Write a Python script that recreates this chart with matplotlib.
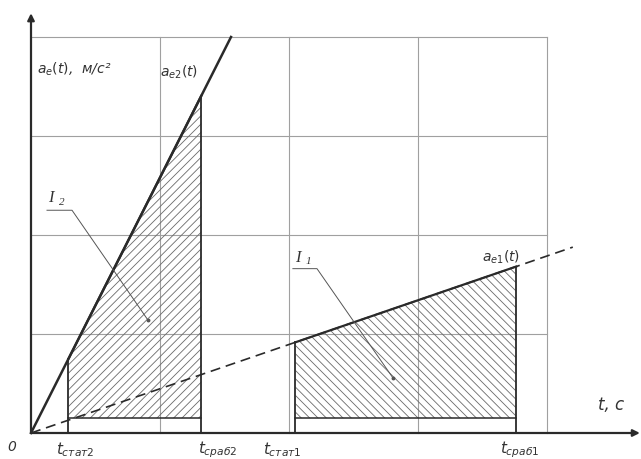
import matplotlib
matplotlib.use("Agg")
import matplotlib.pyplot as plt
import numpy as np

plt.rcParams['font.family'] = ['DejaVu Sans']
plt.rcParams['mathtext.fontset'] = 'dejavusans'
plt.rcParams['hatch.linewidth'] = 0.6

# Acceleration slopes a_e(t) = k * t for the two cases
k1 = 0.447
k2 = 2.58

# Interval boundaries (time, grid units)
t_stat = [2.05, 0.29]
t_srab = [3.76, 1.32]
a_base = 0.15

tick_names = [r"$t_{\mathit{стат}2}$", r"$t_{\mathit{сраб}2}$", r"$t_{\mathit{стат}1}$", r"$t_{\mathit{сраб}1}$"]
tick_pos = [0.34, 1.45, 1.95, 3.79]

grid_x = [1, 2, 3, 4]
grid_y = [1, 2, 3, 4]

fig = plt.figure(figsize=(6.41, 4.59), dpi=100)
ax = fig.add_axes([0, 0, 1, 1])
ax.set_xlim(-31 / 129, 610 / 129)
ax.set_ylim(-26 / 99, 433 / 99)
ax.axis('off')

ink = '#2a2a2a'
gcol = '#a0a0a0'

# grid
for gx in grid_x:
    ax.plot([gx, gx], [0, 4], color=gcol, lw=0.8, zorder=1)
for gy in grid_y:
    ax.plot([0, 4], [gy, gy], color=gcol, lw=0.8, zorder=1)

# axes with arrows
ax.annotate('', xy=(4.72, 0), xytext=(0, 0),
            arrowprops=dict(arrowstyle='-|>', color=ink, lw=1.6, mutation_scale=10,
                            shrinkA=0, shrinkB=0), zorder=5)
ax.annotate('', xy=(0, 4.24), xytext=(0, 0),
            arrowprops=dict(arrowstyle='-|>', color=ink, lw=1.6, mutation_scale=10,
                            shrinkA=0, shrinkB=0), zorder=5)

# a_e1(t): dashed
t1 = np.array([0, 4.2])
ax.plot(t1, k1 * t1, color=ink, lw=1.2, dashes=(6, 3.5), zorder=4)
# a_e2(t): solid
t2 = np.array([0, 4 / k2])
ax.plot(t2, k2 * t2, color=ink, lw=1.8, zorder=4)

# shaded areas I1 and I2
for ts, tr, k, h in [(t_stat[0], t_srab[0], k1, '\\\\\\\\'), (t_stat[1], t_srab[1], k2, '////')]:
    xs = [ts, ts, tr, tr]
    ys = [a_base, k * ts, k * tr, a_base]
    ax.fill(xs, ys, facecolor='none', edgecolor='#6a6a6a', hatch=h, lw=0, zorder=2)
    ax.plot([ts, ts], [0, k * ts], color=ink, lw=1.3, zorder=4)
    ax.plot([tr, tr], [0, k * tr], color=ink, lw=1.3, zorder=4)
    ax.plot([ts, tr], [a_base, a_base], color=ink, lw=1.1, zorder=4)
    ax.plot([ts, tr], [k * ts, k * tr], color=ink, lw=1.6, zorder=4)

# leaders
ax.plot([0.124, 0.318, 0.907], [2.25, 2.25, 1.14], color='#555555', lw=0.7, zorder=4)
ax.plot([0.907], [1.14], 'o', color='#555555', ms=1.8, zorder=4)
ax.plot([2.03, 2.217, 2.806], [1.66, 1.66, 0.556], color='#555555', lw=0.7, zorder=4)
ax.plot([2.806], [0.556], 'o', color='#555555', ms=1.8, zorder=4)

tstyle = dict(color='#333333', style='italic')
ax.text(0.047, 3.67, r"$a_e(t)$,  м/с²", fontsize=10, va='center', ha='left', **tstyle)
ax.text(1.0, 3.64, r"$a_{e2}(t)$", fontsize=10, va='center', ha='left', **tstyle)
ax.text(3.5, 1.77, r"$a_{e1}(t)$", fontsize=10, va='center', ha='left', **tstyle)
ax.text(0.13, 2.37, "I", fontsize=12, family='Liberation Serif', va='center', ha='left', **tstyle)
ax.text(0.22, 2.33, "2", fontsize=8, family='Liberation Serif', va='center', ha='left', **tstyle)
ax.text(2.05, 1.77, "I", fontsize=12, family='Liberation Serif', va='center', ha='left', **tstyle)
ax.text(2.13, 1.73, "1", fontsize=8, family='Liberation Serif', va='center', ha='left', **tstyle)
ax.text(-0.147, -0.14, "0", fontsize=10, va='center', ha='center', **tstyle)
ax.text(4.5, 0.28, "t, с", fontsize=12, va='center', ha='center', **tstyle)
for name, pos in zip(tick_names, tick_pos):
    ax.text(pos, -0.17, name, fontsize=11, va='center', ha='center', **tstyle)

fig.savefig('out.png', dpi=100)
